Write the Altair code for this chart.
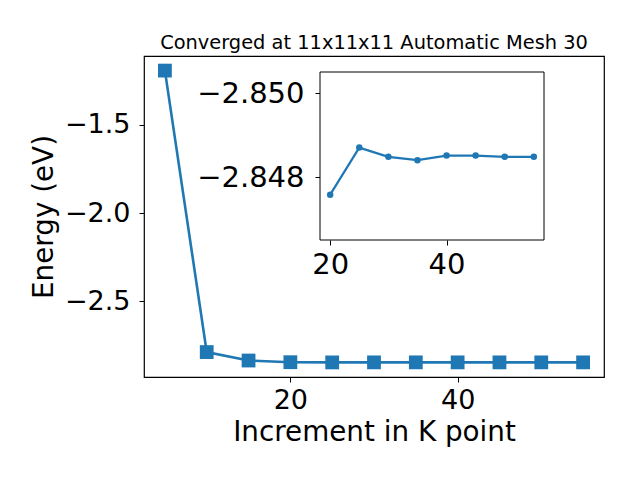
import altair as alt
import pandas as pd

# Data
k_points = [5, 10, 15, 20, 25, 30, 35, 40, 45, 50, 55]
energy = [-1.191, -2.790, -2.838, -2.84758, -2.8487, -2.84848, -2.8484,
          -2.84851, -2.84851, -2.84848, -2.84848]

inset_k = k_points[3:]
inset_energy = energy[3:]

main_x_domain = [2.5, 57.5]
main_y_domain = [-2.9316, -1.1081]
main_y_ticks = [-1.5, -2.0, -2.5]
main_x_ticks = [20, 40]

inset_x_domain = [18.25, 56.75]
inset_y_domain = [-2.8505, -2.8465]
inset_x_ticks = [20, 40]
inset_y_ticks = [-2.850, -2.848]

title_text = "Converged at 11x11x11 Automatic Mesh 30"
x_title = "Increment in K point"
y_title = "Energy (eV)"

BLUE = "#1f77b4"
FONT = "DejaVu Sans"

W, H = 460, 321
# inset placement in plot-area pixels
INSET_X_RANGE = [176, 400]
INSET_Y_RANGE = [16, 184]

main_df = pd.DataFrame({"k": k_points, "E": energy})
inset_df = pd.DataFrame({"ki": inset_k, "Ei": inset_energy})
frame_df = pd.DataFrame({"ki": [inset_x_domain[0]], "ki2": [inset_x_domain[1]],
                         "Ei": [inset_y_domain[0]], "Ei2": [inset_y_domain[1]]})

main_x = alt.X("k:Q", scale=alt.Scale(domain=main_x_domain, nice=False, zero=False),
               axis=alt.Axis(values=main_x_ticks, title=x_title, grid=False, domain=False,
                             orient="bottom", tickSize=5, tickColor="black",
                             labelFontSize=27, labelFont=FONT, labelColor="black",
                             labelPadding=5, labelFlush=False,
                             titleFontSize=27.8, titleFont=FONT, titleFontWeight="normal",
                             titleColor="black", titleY=63, titleBaseline="alphabetic"))
main_y = alt.Y("E:Q", scale=alt.Scale(domain=main_y_domain, nice=False, zero=False),
               axis=alt.Axis(values=main_y_ticks, format=".1f", title=y_title, grid=False,
                             domain=False, orient="left", tickSize=5, tickColor="black",
                             labelFontSize=27, labelFont=FONT, labelColor="black",
                             labelPadding=9, labelFlush=False,
                             titleFontSize=27.8, titleFont=FONT, titleFontWeight="normal",
                             titleColor="black", titleX=-92, titleBaseline="alphabetic"))

main_line = alt.Chart(main_df).mark_line(color=BLUE, strokeWidth=2.6).encode(x=main_x, y=main_y)
main_pts = alt.Chart(main_df).mark_point(shape="square", filled=True, opacity=1,
                                         color=BLUE, size=190).encode(x="k:Q", y="E:Q")
main = alt.layer(main_line, main_pts)

ix_scale = alt.Scale(domain=inset_x_domain, range=INSET_X_RANGE, nice=False, zero=False)
iy_scale = alt.Scale(domain=inset_y_domain, range=INSET_Y_RANGE, nice=False, zero=False)

inset_x = alt.X("ki:Q", scale=ix_scale,
                axis=alt.Axis(values=inset_x_ticks, title=None, grid=False, domain=False,
                              orient="bottom", offset=-(H - INSET_Y_RANGE[1]),
                              tickSize=5, tickColor="black",
                              labelFontSize=29, labelFont=FONT, labelColor="black",
                              labelPadding=5, labelFlush=False))
inset_y = alt.Y("Ei:Q", scale=iy_scale,
                axis=alt.Axis(values=inset_y_ticks, format=".3f", title=None, grid=False,
                              domain=False, orient="left", offset=-INSET_X_RANGE[0],
                              tickSize=5, tickColor="black",
                              labelFontSize=29, labelFont=FONT, labelColor="black",
                              labelPadding=11, labelFlush=False))

frame = alt.Chart(frame_df).mark_rect(fill="white", stroke="black", strokeWidth=1).encode(
    x=inset_x, x2="ki2:Q", y=inset_y, y2="Ei2:Q")
inset_line = alt.Chart(inset_df).mark_line(color=BLUE, strokeWidth=2.2).encode(x="ki:Q", y="Ei:Q")
inset_pts = alt.Chart(inset_df).mark_circle(color=BLUE, opacity=1, size=42).encode(x="ki:Q", y="Ei:Q")
inset = alt.layer(frame, inset_line, inset_pts)

chart = alt.layer(main, inset).resolve_scale(x="independent", y="independent").properties(
    width=W, height=H,
    title=alt.TitleParams(title_text, fontSize=19.4, font=FONT, fontWeight="normal",
                          color="black", anchor="middle", offset=9, dy=21,
                          baseline="alphabetic"),
    autosize=alt.AutoSizeParams(type="none"),
    padding={"left": 136, "top": 48, "right": 20, "bottom": 90},
).configure(background="white", view=alt.ViewConfig(stroke="black", strokeWidth=1.2))

chart.save("out.html", embed_options={"renderer": "svg", "actions": False})
